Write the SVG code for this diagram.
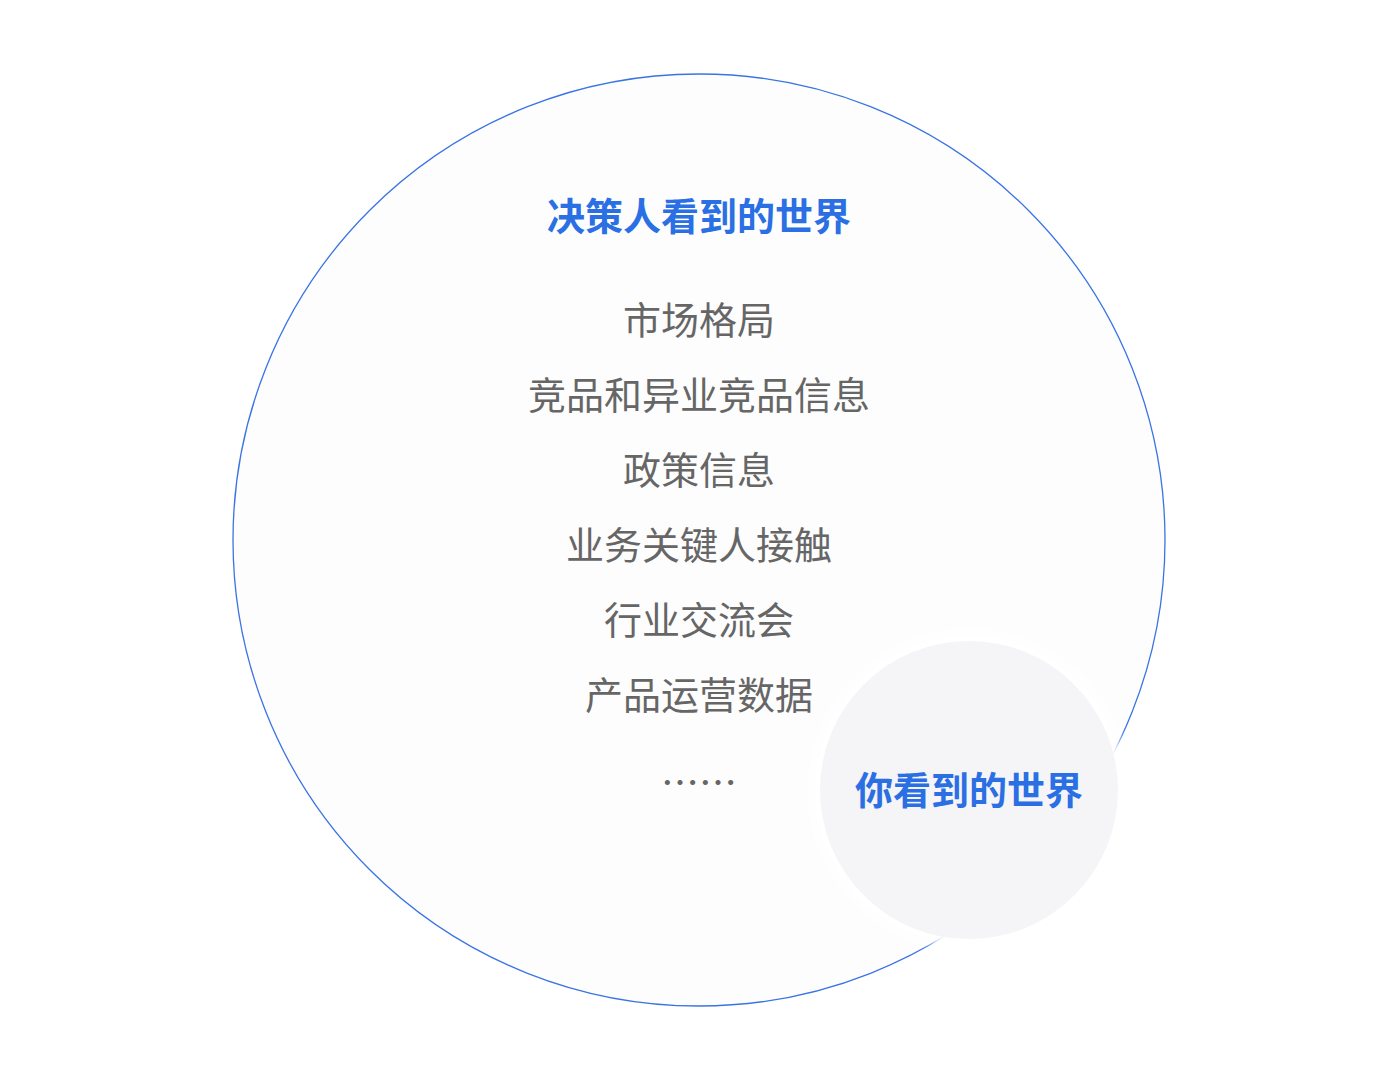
<svg xmlns="http://www.w3.org/2000/svg" width="1398" height="1080" viewBox="0 0 1398 1080">
<defs>
<style>
.title{font-family:"Noto Sans CJK SC","Noto Sans",sans-serif;font-weight:700;font-size:38px;fill:#2a6fe3;text-anchor:middle}
.item{font-family:"Noto Sans CJK SC","Noto Sans",sans-serif;font-weight:400;font-size:38px;fill:#666666;text-anchor:middle}
</style>
<filter id="halo" x="-30%" y="-30%" width="160%" height="160%">
<feGaussianBlur stdDeviation="6"/>
</filter>
</defs>
<rect width="1398" height="1080" fill="#ffffff"/>
<g id="big-world">
<circle cx="699" cy="540" r="466" fill="#fdfdfd" stroke="#3a74e4" stroke-width="1.3"/>
<text class="title" x="699" y="230">决策人看到的世界</text>
<text class="item" x="699" y="334">市场格局</text>
<text class="item" x="699" y="409">竞品和异业竞品信息</text>
<text class="item" x="699" y="484">政策信息</text>
<text class="item" x="699" y="559">业务关键人接触</text>
<text class="item" x="699" y="634">行业交流会</text>
<text class="item" x="699" y="709">产品运营数据</text>
<text class="item" x="699" y="797">……</text>
</g>
<g id="your-world">
<circle cx="969" cy="790" r="158" fill="#ffffff" filter="url(#halo)"/>
<circle cx="969" cy="790" r="149" fill="#f5f4f7"/>
<text class="title" x="969" y="804">你看到的世界</text>
</g>
</svg>
